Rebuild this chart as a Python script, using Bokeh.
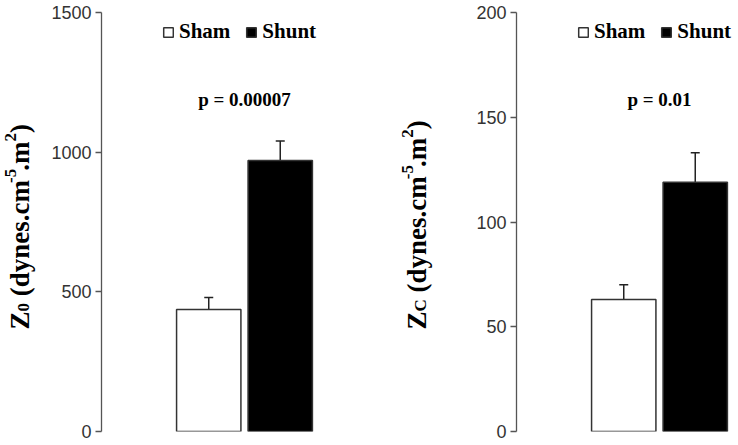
import math
from bokeh.plotting import figure
from bokeh.layouts import row
from bokeh.models import (Range1d, Label, Legend, LegendItem, Whisker,
                          ColumnDataSource, FixedTicker, TeeHead)
from bokeh.embed import file_html
from bokeh.resources import INLINE

# ---- data ----
groups = ["Sham", "Shunt"]
z0_mean = [437, 970]
z0_err = [43, 70]
zc_mean = [63, 119]
zc_err = [7, 14]
z0_ticks = [0, 500, 1000, 1500]
zc_ticks = [0, 50, 100, 150, 200]
z0_max = 1500
zc_max = 200
z0_p = "p = 0.00007"
zc_p = "p = 0.01"
fills = ["white", "black"]

SERIF = "Liberation Serif"
SANS = "Liberation Sans"
H = 445

# Times-bold advance widths (per 1000 em) for the y label pieces
TW = {"Z": 667, " ": 250, "(": 333, ")": 333, "d": 556, "y": 500, "n": 556,
      "e": 444, "s": 389, ".": 250, "c": 444, "m": 833, "-": 333, "0": 500,
      "2": 500, "5": 500, "C": 722}


def tw(s, size):
    return sum(TW.get(ch, 500) for ch in s) * size / 1000.0


def label_panel(width, sub, base_x, y0, F=27, S=17):
    p = figure(width=width, height=H, output_backend="svg", toolbar_location=None,
               x_axis_location=None, y_axis_location=None,
               x_range=Range1d(0, 1), y_range=Range1d(0, 1),
               min_border=0, min_border_left=0, min_border_right=0,
               min_border_top=0, min_border_bottom=0)
    p.outline_line_color = None
    p.grid.visible = False
    # (text, font size, baseline shift, extra advance before the piece)
    pieces = [("Z", F, 0, 0), (sub, S, 4, 0), ("(dynes.cm", F, 0, tw(" ", F)),
              ("-5", S, -9, -3), (".m", F, 0, -2), ("2", S, -9, 0), (")", F, 0, 0)]
    y = y0
    for txt, size, shift, pre in pieces:
        y += pre
        p.add_layout(Label(x=base_x + shift, y=y, x_units="screen", y_units="screen",
                           angle=math.pi / 2, text=txt, text_font=SERIF,
                           text_font_style="bold", text_font_size=f"{size}px",
                           text_color="black", text_align="left",
                           text_baseline="alphabetic"))
        y += tw(txt, size)
    return p


def make_panel(width, means, errs, ticks, ymax, ptext, bl, br):
    p = figure(width=width, height=H, output_backend="svg", toolbar_location=None,
               x_range=Range1d(-1.5, 1.605), y_range=Range1d(0, ymax),
               x_axis_location=None, min_border_left=bl, min_border_right=br,
               min_border_top=12, min_border_bottom=14)
    p.outline_line_color = None
    p.grid.visible = False
    p.background_fill_color = "white"
    p.border_fill_color = "white"

    ax = p.yaxis[0]
    ax.ticker = FixedTicker(ticks=ticks)
    ax.axis_line_color = "#555555"
    ax.axis_line_width = 1.3
    ax.major_tick_line_color = "#555555"
    ax.major_tick_line_width = 1.3
    ax.major_tick_out = 6
    ax.major_tick_in = 0
    ax.minor_tick_line_color = None
    ax.major_label_text_font = SANS
    ax.major_label_text_font_size = "18px"
    ax.major_label_text_color = "#333333"
    ax.major_label_standoff = 4

    xs = list(range(len(groups)))
    renderers = []
    for i in xs:
        src = ColumnDataSource(dict(x=[xs[i]], top=[means[i]]))
        r = p.vbar(x="x", top="top", width=0.9, bottom=0, source=src,
                   fill_color=fills[i], line_color="#333333", line_width=1.5)
        renderers.append(r)

    wsrc = ColumnDataSource(dict(x=xs, lower=means,
                                 upper=[m + e for m, e in zip(means, errs)]))
    w = Whisker(base="x", lower="lower", upper="upper", source=wsrc,
                line_color="#222222", line_width=1.5, lower_head=None,
                upper_head=TeeHead(size=9, line_color="#222222", line_width=1.5))
    p.add_layout(w)

    legend = Legend(items=[LegendItem(label=g, renderers=[r])
                           for g, r in zip(groups, renderers)],
                    orientation="horizontal", location=(61, 387),
                    glyph_width=12, glyph_height=12, label_standoff=5,
                    spacing=15, padding=0, margin=0, border_line_color=None,
                    background_fill_alpha=0, label_text_font=SERIF,
                    label_text_font_style="bold", label_text_font_size="21px",
                    label_text_color="black", label_height=20)
    p.add_layout(legend)

    p.add_layout(Label(x=0.5, y=0.792 * ymax, text=ptext, text_align="center",
                       text_baseline="middle", text_font=SERIF,
                       text_font_style="bold", text_font_size="19px",
                       text_color="black"))
    return p


lab1 = label_panel(46, "0", 19, H - 333 - 10)
p1 = make_panel(323, z0_mean, z0_err, z0_ticks, z0_max, z0_p, 55, 46)
lab2 = label_panel(84, "C", 47, H - 333 - 10)
p2 = make_panel(285, zc_mean, zc_err, zc_ticks, zc_max, zc_p, 63, 0)

layout = row(lab1, p1, lab2, p2)

open("out.html", "w").write(file_html(layout, INLINE))
